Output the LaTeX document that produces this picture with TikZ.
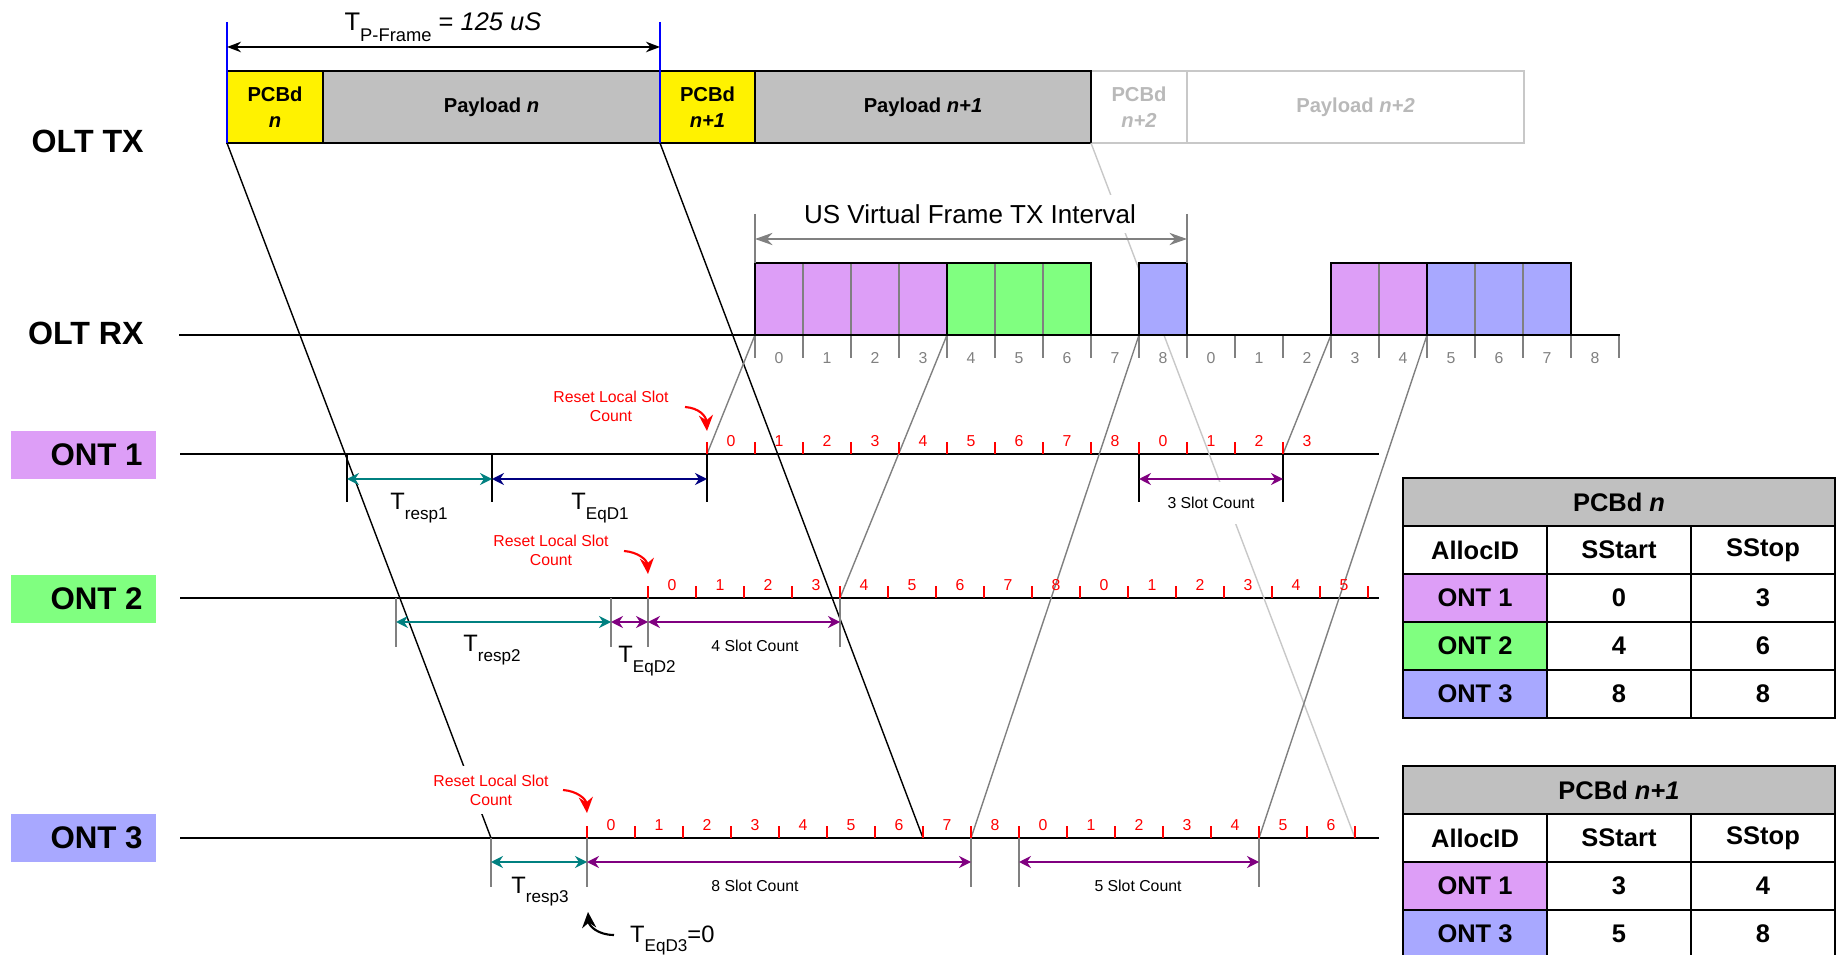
\documentclass[tikz,border=0pt]{standalone}
\usepackage{fontspec}
\setmainfont{Liberation Sans}
\usetikzlibrary{arrows.meta, positioning, calc}

\definecolor{ontpink}{RGB}{221,158,247}
\definecolor{ontgreen}{RGB}{128,255,128}
\definecolor{ontblue}{RGB}{168,168,255}
\definecolor{boxgray}{RGB}{192,192,192}
\definecolor{ghost}{RGB}{200,200,200}
\definecolor{ghosttxt}{RGB}{185,185,185}
\definecolor{tealarr}{RGB}{0,128,128}
\definecolor{navyarr}{RGB}{0,0,128}
\definecolor{purparr}{RGB}{128,0,128}
\definecolor{upgray}{RGB}{128,128,128}

\newcommand{\fsz}[2]{\fontsize{#1}{#2}\selectfont}
\newcommand{\lowtxt}[1]{\raisebox{-0.75ex}{\scalebox{0.72}{#1}}}

\tikzset{
  bigtag/.style={font=\fsz{17.8}{20}\bfseries, anchor=east, inner sep=0pt},
  txtext/.style={font=\fsz{11.5}{14.7}\bfseries, align=center},
  ghosttext/.style={txtext, text=ghosttxt},
  timeline/.style={line width=1.2pt},
  sigline/.style={line width=0.8pt},
  upline/.style={line width=0.8pt, draw=upgray},
  rxtick/.style={draw=upgray, line width=0.8pt},
  slottick/.style={draw=red, line width=0.9pt},
  rxnum/.style={font=\fsz{9}{10}, text=upgray},
  slotnum/.style={font=\fsz{9}{10}, text=red},
  tlabel/.style={font=\fsz{13.5}{15}, anchor=base},
  countlabel/.style={font=\fsz{9}{10}, fill=white, inner sep=2pt},
  resetlabel/.style={font=\fsz{9}{10.8}, text=red, align=center, fill=white, inner sep=1pt},
  dimarrow/.style={{Stealth[length=6.8pt,width=6.8pt]}-{Stealth[length=6.8pt,width=6.8pt]}, line width=1.1pt},
  framearrow/.style={{Stealth[length=8pt,width=6pt]}-{Stealth[length=8pt,width=6pt]}, line width=1.1pt},
  usarrow/.style={{Stealth[length=10pt,width=7pt]}-{Stealth[length=10pt,width=7pt]}, draw=upgray, line width=0.9pt},
  markline/.style={line width=0.8pt},
  graymark/.style={line width=0.8pt, draw=upgray},
  redarrow/.style={-{Stealth[length=9pt,width=8pt]}, red, line width=1.2pt},
  cell/.style={draw, line width=1.3pt},
  celltext/.style={font=\fsz{14.5}{16}\bfseries},
}

\begin{document}
\begin{tikzpicture}[x=0.02cm, y=-0.02cm]
\useasboundingbox (0,0) rectangle (1843,955);

% downstream frames sent by the OLT
\draw[draw=ghost, line width=1.1pt] (1091,71) rectangle (1187,143) node[midway, ghosttext] {PCBd\\\textit{n+2}};
\draw[draw=ghost, line width=1.1pt] (1187,71) rectangle (1524,143) node[midway, ghosttext] {Payload \textit{n+2}};
\draw[fill=yellow, line width=1.1pt] (227,71) rectangle (323,143) node[midway, txtext] {PCBd\\\textit{n}};
\draw[fill=boxgray, line width=1.1pt] (323,71) rectangle (660,143) node[midway, txtext] {Payload \textit{n}};
\draw[fill=yellow, line width=1.1pt] (660,71) rectangle (755,143) node[midway, txtext] {PCBd\\\textit{n+1}};
\draw[fill=boxgray, line width=1.1pt] (755,71) rectangle (1091,143) node[midway, txtext] {Payload \textit{n+1}};

% frame period
\draw[blue, line width=0.8pt] (227,22) -- (227,143);
\draw[blue, line width=0.8pt] (660,22) -- (660,143);
\draw[framearrow] (227,47) -- (660,47);
\node[tlabel, font=\fsz{14.5}{16}] (tpframe) at (443,31) {T\lowtxt{P-Frame} = \textit{125 uS}};

% station names and time lines
\node[bigtag, font=\fsz{18.3}{20}\bfseries] (olttx) at (144,141) {OLT TX};
\node[bigtag, font=\fsz{18.3}{20}\bfseries] (oltrx) at (144,333) {OLT RX};
\fill[ontpink] (11,431) rectangle (156,479);
\fill[ontgreen] (11,575) rectangle (156,623);
\fill[ontblue] (11,814) rectangle (156,862);
\node[bigtag] (ont1) at (143,455) {ONT 1};
\node[bigtag] (ont2) at (143,599) {ONT 2};
\node[bigtag] (ont3) at (143,838) {ONT 3};

\draw[timeline] (179,335) -- (1620,335);
\draw[timeline] (180,454) -- (1379,454);
\draw[timeline] (180,598) -- (1379,598);
\draw[timeline] (180,838) -- (1379,838);

% PCBd travelling down to the ONTs
\coordinate (txn) at (227,143);
\coordinate (txn1) at (660,143);
\coordinate (txn2) at (1091,143);
\coordinate (hitn) at (491,838);
\coordinate (hitn1) at (923,838);
\coordinate (hitn2) at (1355,838);
\draw[sigline] (txn) -- (hitn);
\draw[sigline] (txn1) -- (hitn1);
\draw[sigline, draw=ghost] (txn2) -- (hitn2);

% bursts travelling up to the OLT
\draw[upline] (707,454) -- (755,335);
\draw[upline] (840,598) -- (947,335);
\draw[upline] (971,838) -- (1139,335);
\draw[upline] (1283,454) -- (1331,335);
\draw[upline] (1259,838) -- (1427,335);

% received bursts
\draw[line width=1.1pt, fill=ontpink] (755,263) rectangle (947,335);
\draw[line width=1.1pt, fill=ontgreen] (947,263) rectangle (1091,335);
\draw[line width=1.1pt, fill=ontblue] (1139,263) rectangle (1187,335);
\draw[line width=1.1pt, fill=ontpink] (1331,263) rectangle (1427,335);
\draw[line width=1.1pt, fill=ontblue] (1427,263) rectangle (1571,335);
\foreach \k in {1,2,3,5,6,13,15,16}
  \draw[rxtick] ({755+48*\k},264) -- ({755+48*\k},334);
\foreach \k in {0,...,18}
  \draw[rxtick] ({755+48*\k},336) -- ++(0,22);
\foreach \k [evaluate={\k as \lab using int(mod(\k,9))}] in {0,...,17}
  \node[rxnum] at ({779+48*\k},358) {\lab};

% virtual frame interval
\draw[graymark] (755,214) -- (755,263);
\draw[graymark] (1187,214) -- (1187,263);
\draw[usarrow] (755,239) -- (1187,239);
\node[font=\fsz{14.8}{16}, fill=white, minimum height=22pt, inner xsep=2pt] (usint) at (970,214) {US Virtual Frame TX Interval};

% local slot counts
\foreach \k in {0,...,12}
  \draw[slottick] ({707+48*\k},454) -- ++(0,-12);
\foreach \k [evaluate={\k as \lab using int(mod(\k,9))}] in {0,...,12}
  \node[slotnum] at ({731+48*\k},441) {\lab};
\foreach \k in {0,...,15}
  \draw[slottick] ({648+48*\k},598) -- ++(0,-12);
\foreach \k [evaluate={\k as \lab using int(mod(\k,9))}] in {0,...,14}
  \node[slotnum] at ({672+48*\k},585) {\lab};
\foreach \k in {0,...,16}
  \draw[slottick] ({587+48*\k},838) -- ++(0,-12);
\foreach \k [evaluate={\k as \lab using int(mod(\k,9))}] in {0,...,15}
  \node[slotnum] at ({611+48*\k},825) {\lab};

% ONT 1 timing
\foreach \x in {347,492,707,1139,1283}
  \draw[markline] (\x,454) -- (\x,502);
\draw[dimarrow, tealarr] (347,479) -- (492,479);
\draw[dimarrow, navyarr] (492,479) -- (707,479);
\draw[dimarrow, purparr] (1139,479) -- (1283,479);
\node[tlabel] (tresp1) at (419,510) {T\lowtxt{resp1}};
\node[tlabel] (teqd1) at (600,510) {T\lowtxt{EqD1}};
\node[countlabel, minimum height=24pt] (cnt1) at (1211,503) {3 Slot Count};

% ONT 2 timing
\foreach \x in {396,611,648,840}
  \draw[graymark] (\x,598) -- (\x,647);
\draw[dimarrow, tealarr] (396,622) -- (611,622);
\draw[dimarrow, purparr] (611,622) -- (648,622);
\draw[dimarrow, purparr] (648,622) -- (840,622);
\node[tlabel] (tresp2) at (492,652) {T\lowtxt{resp2}};
\node[tlabel] (teqd2) at (647,663) {T\lowtxt{EqD2}};
\node[countlabel] (cnt2) at (755,646) {4 Slot Count};

% ONT 3 timing
\foreach \x in {491,587,971,1019,1259}
  \draw[graymark] (\x,838) -- (\x,887);
\draw[dimarrow, tealarr] (491,862) -- (587,862);
\draw[dimarrow, purparr] (587,862) -- (971,862);
\draw[dimarrow, purparr] (1019,862) -- (1259,862);
\node[tlabel] (tresp3) at (540,893) {T\lowtxt{resp3}};
\node[countlabel] (cnt3) at (755,886) {8 Slot Count};
\node[countlabel] (cnt4) at (1138,886) {5 Slot Count};
\node[tlabel, anchor=base west] (teqd3) at (624,942) {T\lowtxt{EqD3}=0};
\draw[-{Stealth[length=9pt,width=8pt]}, line width=1.2pt] (614,935) .. controls (598,935) and (589,926) .. (588,912);

% counter resets
\node[resetlabel] (reset1) at (611,406) {Reset Local Slot\\Count};
\node[resetlabel] (reset2) at (551,550) {Reset Local Slot\\Count};
\node[resetlabel, minimum height=27pt] (reset3) at (491,790) {Reset Local Slot\\Count};
\draw[redarrow] (685,407) .. controls (699,408) and (706,416) .. (707,431);
\draw[redarrow] (624,551) .. controls (638,552) and (647,560) .. (648,574);
\draw[redarrow] (563,790) .. controls (577,791) and (586,799) .. (587,813);

% allocation table PCBd n
\draw[cell, fill=boxgray] (1403,478) rectangle (1835,526) node[midway, celltext] {PCBd \textit{n}};
\foreach \lab [count=\i from 0] in {AllocID, SStart, SStop}
  \draw[cell] ({1403+144*\i},526) rectangle ++(144,48) node[midway, celltext] {\lab};
\foreach \who/\hue/\sa/\sb [count=\j from 0] in {ONT 1/ontpink/0/3, ONT 2/ontgreen/4/6, ONT 3/ontblue/8/8} {
  \draw[cell, fill=\hue] (1403,{574+48*\j}) rectangle ++(144,48) node[midway, celltext] {\who};
  \draw[cell] (1547,{574+48*\j}) rectangle ++(144,48) node[midway, celltext] {\sa};
  \draw[cell] (1691,{574+48*\j}) rectangle ++(144,48) node[midway, celltext] {\sb};
}

% allocation table PCBd n+1
\draw[cell, fill=boxgray] (1403,766) rectangle (1835,814) node[midway, celltext] {PCBd \textit{n+1}};
\foreach \lab [count=\i from 0] in {AllocID, SStart, SStop}
  \draw[cell] ({1403+144*\i},814) rectangle ++(144,48) node[midway, celltext] {\lab};
\foreach \who/\hue/\sa/\sb [count=\j from 0] in {ONT 1/ontpink/3/4, ONT 3/ontblue/5/8} {
  \draw[cell, fill=\hue] (1403,{862+48*\j}) rectangle ++(144,48) node[midway, celltext] {\who};
  \draw[cell] (1547,{862+48*\j}) rectangle ++(144,48) node[midway, celltext] {\sa};
  \draw[cell] (1691,{862+48*\j}) rectangle ++(144,48) node[midway, celltext] {\sb};
}
\end{tikzpicture}
\end{document}
